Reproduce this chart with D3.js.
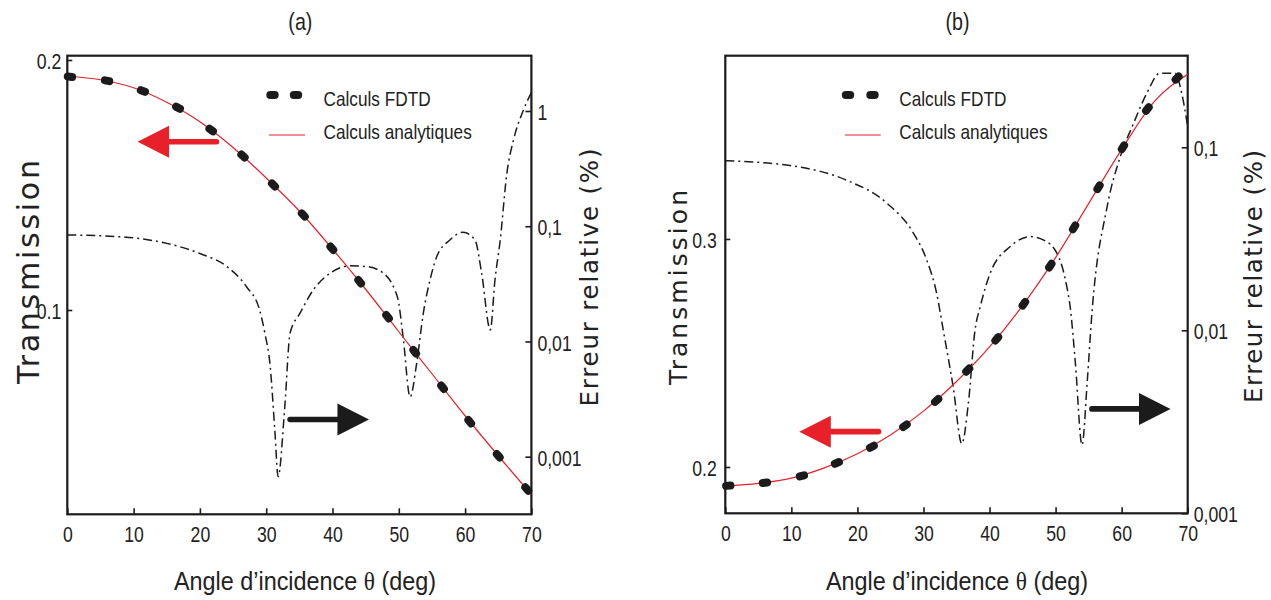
<!DOCTYPE html>
<html>
<head>
<meta charset="utf-8">
<script src="https://cdn.jsdelivr.net/npm/d3@7"></script>
<style>
  body { margin: 0; background: #fff; }
  svg { display: block; }
  .narrow { font-family: "Liberation Sans Narrow", "Arial Narrow", "Liberation Sans", sans-serif; }
  .wide { font-family: "DejaVu Sans", Verdana, sans-serif; }
</style>
</head>
<body>
<svg id="chart" width="1271" height="600"></svg>
<script>
// ---------- data ----------
const angleTicks = [0, 10, 20, 30, 40, 50, 60, 70];

// (a) analytic transmission
const analyticAnglesA = [0, 5, 10, 15, 20, 25, 30, 35, 40, 45, 50, 55, 60, 65, 70];
const analyticValuesA = [0.1935, 0.1921, 0.1889, 0.1831, 0.1753, 0.1650, 0.1528, 0.1396, 0.1244, 0.1083, 0.0913, 0.0745, 0.0577, 0.0417, 0.0262];
// (a) FDTD transmission
const fdtdAnglesA = [0.4, 6.0, 11.4, 16.7, 21.7, 26.5, 31.1, 35.6, 39.9, 44.1, 48.3, 52.4, 56.6, 60.7, 65.0, 69.3];
const fdtdValuesA = [0.1933, 0.1917, 0.1876, 0.1809, 0.1720, 0.1616, 0.1500, 0.1380, 0.1247, 0.1113, 0.0973, 0.0833, 0.0691, 0.0553, 0.0417, 0.0284];
// (a) relative error (%)
const errorAnglesA = [0, 8, 15, 20, 24, 27, 29, 29.8, 30.6, 31.3, 31.8, 32.8, 33.6, 35.1, 37.1, 39.6, 42.6, 45.2, 47.7, 49.4, 49.9, 50.7, 51.7, 52.7, 53.7, 54.7, 55.7, 57.7, 59.7, 61.5, 62.5, 63.8, 64.5, 65.3, 66.3, 67.3, 68.8, 70];
const errorValuesA = [0.084, 0.081, 0.071, 0.058, 0.045, 0.030, 0.0188, 0.0118, 0.0061, 0.0017, 0.00067, 0.0027, 0.0118, 0.0176, 0.028, 0.039, 0.0453, 0.0446, 0.039, 0.028, 0.023, 0.0103, 0.0033, 0.0065, 0.0176, 0.034, 0.054, 0.076, 0.0887, 0.076, 0.039, 0.0126, 0.034, 0.076, 0.288, 0.56, 1.02, 1.45];

// (b) analytic transmission
const analyticAnglesB = [0, 5, 10, 15, 20, 25, 30, 35, 40, 45, 50, 55, 60, 65, 70];
const analyticValuesB = [0.1917, 0.1928, 0.1951, 0.1996, 0.2058, 0.2140, 0.2245, 0.2375, 0.2527, 0.2708, 0.2918, 0.3155, 0.3393, 0.3605, 0.3722];
// (b) FDTD transmission
const fdtdAnglesB = [0.45, 6.0, 11.6, 16.9, 22.2, 27.2, 32.0, 36.7, 41.1, 45.2, 49.2, 52.8, 56.5, 60.2, 63.9, 68.4];
const fdtdValuesB = [0.1918, 0.1931, 0.1961, 0.2018, 0.2089, 0.2181, 0.2292, 0.2425, 0.2562, 0.2716, 0.2883, 0.3051, 0.3227, 0.3402, 0.3570, 0.3706];
// (b) relative error (%)
const errorAnglesB = [0, 10.3, 18.4, 24.5, 28.5, 30.5, 32, 33, 34.5, 35.8, 36.8, 37.8, 38.6, 40.1, 43.1, 46.2, 48.2, 50.2, 51.7, 52.2, 53, 54, 54.8, 55.5, 57.8, 59.8, 61.8, 63.8, 65.8, 68.1, 69.1, 70];
const errorValuesB = [0.0845, 0.079, 0.066, 0.0494, 0.0339, 0.0242, 0.0159, 0.01, 0.0049, 0.0024, 0.004, 0.01, 0.0135, 0.0205, 0.0286, 0.0325, 0.0311, 0.0264, 0.0173, 0.0135, 0.0066, 0.00236, 0.0053, 0.0124, 0.0473, 0.089, 0.135, 0.197, 0.254, 0.254, 0.197, 0.13];

// axis ticks
const transTicksA = [0.1, 0.2];
const errorTicksA = [0.001, 0.01, 0.1, 1];
const transTicksB = [0.2, 0.3];
const errorTicksB = [0.001, 0.01, 0.1];

// text
const panelTitles = ["(a)", "(b)"];
const legendLabels = ["Calculs FDTD", "Calculs analytiques"];
const xTitleParts = ["Angle d\u2019incidence ", "\u03b8", " (deg)"];
const yLeftTitle = "Transmission";
const yRightTitle = "Erreur relative (%)";

// ---------- styles ----------
const INK = "#1b1b1b";
const RED = "#e8202a";
const NARROW = 0.82;   // horizontal squeeze for the condensed labels

const svg = d3.select("#chart");

const panels = [
  {
    title: panelTitles[0],
    left: 67.3, right: 531.4, top: 55.7, bottom: 514.3,
    transDomain: [0.01828, 0.20172], errDomain: [Math.pow(10, -3.5), Math.pow(10, 0.48)],
    transTicks: transTicksA, errTicks: errorTicksA,
    analytic: [analyticAnglesA, analyticValuesA],
    fdtd: [fdtdAnglesA, fdtdValuesA],
    error: [errorAnglesA, errorValuesA],
    leftPad: 6,
    legend: { dash1: 272.5, dash2: 296, line: [269, 305], text: 323.5 },
    redArrow: { tail: 22.5, tip: 10.6, value: 0.1673 },
    blackArrow: { tail: 33.6, tip: 45.5, value: 0.0021 },
    yLeftTitle: { x: 39, y: 272, size: 30, len: 224 },
    yRightTitle: { x: 598, y: 277.5, size: 24.5, len: 258 },
    xTitleX: 305
  },
  {
    title: panelTitles[1],
    left: 725.3, right: 1187.7, top: 55.7, bottom: 513.3,
    transDomain: [0.17969, 0.38039], errDomain: [0.001, Math.pow(10, -0.4995)],
    transTicks: transTicksB, errTicks: errorTicksB,
    analytic: [analyticAnglesB, analyticValuesB],
    fdtd: [fdtdAnglesB, fdtdValuesB],
    error: [errorAnglesB, errorValuesB],
    leftPad: 8.5,
    legend: { dash1: 848, dash2: 872.5, line: [845, 880.7], text: 899.3 },
    redArrow: { tail: 23.2, tip: 11.2, value: 0.2155 },
    blackArrow: { tail: 55.5, tip: 67.4, value: 0.00372 },
    yLeftTitle: { x: 686.7, y: 287.5, size: 25, len: 195 },
    yRightTitle: { x: 1261.7, y: 276.5, size: 24.5, len: 253 },
    xTitleX: 957
  }
];

function zip(a, b) { return a.map((v, i) => [v, b[i]]); }

// squeeze a text's glyphs horizontally to a condensed width
function condense(sel, k) {
  sel.each(function () {
    const w = this.getComputedTextLength();
    d3.select(this).attr("textLength", w * k).attr("lengthAdjust", "spacingAndGlyphs");
  });
}

// text drawn at (x, y) and squeezed through a horizontal scale
function narrowText(g, x, y, size, anchor, k = NARROW) {
  return g.append("g").attr("transform", `translate(${x},${y}) scale(${k},1)`)
    .append("text").attr("class", "narrow").attr("text-anchor", anchor)
    .attr("fill", "#222").style("font-size", size + "px");
}

function drawArrow(g, x, y, spec, color) {
  const yy = y(spec.value);
  const xt = x(spec.tail), xp = x(spec.tip);
  const dir = Math.sign(xp - xt);
  const headLen = 31.5, half = 16;
  const xb = xp - dir * headLen;
  g.append("line")
    .attr("x1", xt).attr("y1", yy).attr("x2", xb + dir * 2).attr("y2", yy)
    .attr("stroke", color).attr("stroke-width", 5.6).attr("stroke-linecap", "round");
  g.append("path")
    .attr("d", `M${xp},${yy}L${xb},${yy - half}L${xb},${yy + half}Z`)
    .attr("fill", color);
}

// short rounded dashes oriented along the curve
function drawCapsules(g, pts, color) {
  const n = pts.length;
  g.selectAll(null).data(pts).join("line")
    .each(function (p, i) {
      const a = pts[Math.max(0, i - 1)], b = pts[Math.min(n - 1, i + 1)];
      let dx = b[0] - a[0], dy = b[1] - a[1];
      const L = Math.hypot(dx, dy) || 1;
      dx /= L; dy /= L;
      const h = 2.2;
      d3.select(this)
        .attr("x1", p[0] - dx * h).attr("y1", p[1] - dy * h)
        .attr("x2", p[0] + dx * h).attr("y2", p[1] + dy * h);
    })
    .attr("stroke", color).attr("stroke-width", 8).attr("stroke-linecap", "round");
}

panels.forEach(P => {
  const g = svg.append("g");
  const x = d3.scaleLinear().domain([0, 70]).range([P.left, P.right]);
  const yT = d3.scaleLinear().domain(P.transDomain).range([P.bottom, P.top]);
  const yE = d3.scaleLog().domain(P.errDomain).range([P.bottom, P.top]);

  // axes (ticks point inward)
  const fontTick = 21.5;
  const gx = g.append("g").attr("transform", `translate(0,${P.bottom})`)
    .call(d3.axisBottom(x).tickValues(angleTicks).tickSize(-6).tickPadding(12).tickFormat(d3.format("d")));
  const gl = g.append("g").attr("transform", `translate(${P.left},0)`)
    .call(d3.axisLeft(yT).tickValues(P.transTicks).tickSize(-5).tickPadding(P.leftPad).tickFormat(d3.format(".1f")));
  const gr = g.append("g").attr("transform", `translate(${P.right},0)`)
    .call(d3.axisRight(yE).tickValues(P.errTicks).tickSize(-6).tickPadding(6)
      .tickFormat(d => String(+d.toPrecision(3)).replace(".", ",")));
  [gx, gl, gr].forEach(a => {
    a.select(".domain").remove();
    a.selectAll(".tick line").attr("stroke", INK).attr("stroke-width", 1.6);
    a.selectAll(".tick text").attr("class", "narrow").attr("fill", "#222")
      .style("font-size", fontTick + "px").call(condense, NARROW);
  });
  gl.selectAll(".tick text").attr("dy", "0.4em");
  gr.selectAll(".tick text").attr("dy", "0.4em");

  // frame
  g.append("rect")
    .attr("x", P.left).attr("y", P.top)
    .attr("width", P.right - P.left).attr("height", P.bottom - P.top)
    .attr("fill", "none").attr("stroke", INK).attr("stroke-width", 2.2);

  // clip for curves
  const clipId = "clip" + P.title.replace(/\W/g, "");
  g.append("clipPath").attr("id", clipId).append("rect")
    .attr("x", P.left).attr("y", P.top - 1)
    .attr("width", P.right - P.left).attr("height", P.bottom - P.top + 1);
  const plot = g.append("g").attr("clip-path", `url(#${clipId})`);

  // relative error (dash-dot)
  const errLine = d3.line().x(d => x(d[0])).y(d => yE(d[1])).curve(d3.curveMonotoneX);
  plot.append("path").datum(zip(P.error[0], P.error[1]))
    .attr("d", errLine).attr("fill", "none").attr("stroke", INK)
    .attr("stroke-width", 1.5).attr("stroke-dasharray", "9,4,2,4");

  // analytic transmission
  const tLine = d3.line().x(d => x(d[0])).y(d => yT(d[1])).curve(d3.curveMonotoneX);
  plot.append("path").datum(zip(P.analytic[0], P.analytic[1]))
    .attr("d", tLine).attr("fill", "none").attr("stroke", RED).attr("stroke-width", 1.2);

  // FDTD transmission
  drawCapsules(g, zip(P.fdtd[0], P.fdtd[1]).map(d => [x(d[0]), yT(d[1])]), INK);

  // arrows
  drawArrow(g, x, yT, P.redArrow, RED);
  drawArrow(g, x, yE, P.blackArrow, INK);

  // legend
  const L = P.legend;
  [L.dash1, L.dash2].forEach(cx => {
    g.append("line").attr("x1", cx - 2.2).attr("x2", cx + 2.2).attr("y1", 95).attr("y2", 95)
      .attr("stroke", INK).attr("stroke-width", 8).attr("stroke-linecap", "round");
  });
  g.append("line").attr("x1", L.line[0]).attr("x2", L.line[1]).attr("y1", 135).attr("y2", 135)
    .attr("stroke", RED).attr("stroke-width", 1.2);
  narrowText(g, L.text, 105.5, 21, "start").text(legendLabels[0]);
  narrowText(g, L.text, 139, 21, "start").text(legendLabels[1]);

  // panel title
  narrowText(g, (P.left + P.right) / 2 + 1, 30, 24, "middle").text(P.title);

  // x title
  const xt = narrowText(g, P.xTitleX, 590, 26, "middle", 0.9);
  xt.append("tspan").text(xTitleParts[0]);
  xt.append("tspan").style("font-family", "'Liberation Serif', serif").text(xTitleParts[1]);
  xt.append("tspan").text(xTitleParts[2]);

  // y titles
  const yl = P.yLeftTitle;
  g.append("text").attr("class", "wide")
    .attr("transform", `translate(${yl.x},${yl.y}) rotate(-90)`)
    .attr("text-anchor", "middle").attr("fill", "#222").style("font-size", yl.size + "px")
    .attr("textLength", yl.len).attr("lengthAdjust", "spacing").text(yLeftTitle);
  const yr = P.yRightTitle;
  g.append("text").attr("class", "wide")
    .attr("transform", `translate(${yr.x},${yr.y}) rotate(-90)`)
    .attr("text-anchor", "middle").attr("fill", "#222").style("font-size", yr.size + "px")
    .attr("textLength", yr.len).attr("lengthAdjust", "spacing").text(yRightTitle);
});
</script>
</body>
</html>
